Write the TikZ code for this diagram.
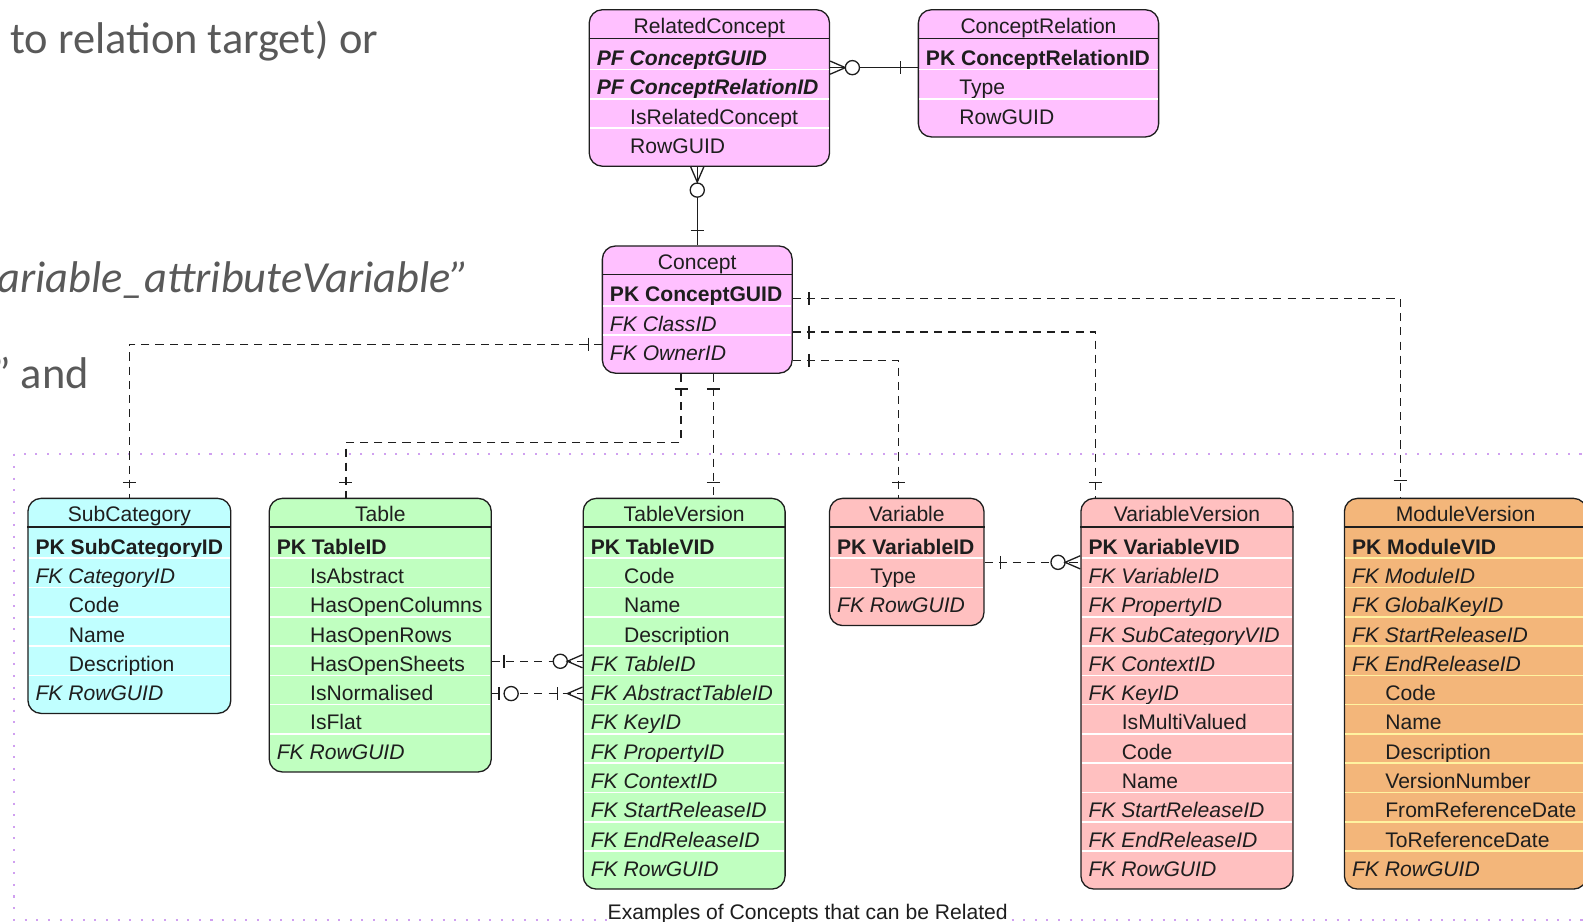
\documentclass[tikz,border=0pt]{standalone}
\usepackage{fontspec}
\setmainfont{Liberation Sans}
\newfontfamily\slidefont{Carlito}

\definecolor{pinkbox}{HTML}{FFC0FF}
\definecolor{cyanbox}{HTML}{C0FFFF}
\definecolor{greenbox}{HTML}{C0FFC0}
\definecolor{redbox}{HTML}{FFC0C0}
\definecolor{orangebox}{HTML}{F3B67A}
\definecolor{modsep}{HTML}{FFF3A0}
\definecolor{slidegray}{HTML}{595959}
\definecolor{framepink}{HTML}{D0A0F0}
\definecolor{inkgray}{HTML}{1E1E1E}

% name, fill, row rule, x, y, width, rows, title, fields
\newcommand{\erentity}[9]{%
    \node[entity, fill=#2, minimum width=#6, minimum height={39+29*#7}] (#1) at (#4,#5) {};
    \node[etitle] at ([yshift=-24]#1.north) {#8};
    \draw[inkgray, line width=1.3pt] ([yshift=-29]#1.north west) -- ([yshift=-29]#1.north east);
    \foreach \s/\t [count=\i] in {#9} {
        \ifnum\i>1
            \draw[#3, line width=1.6pt] ([xshift=1.5, yshift={-2-29*\i}]#1.north west) -- ([xshift=-1.5, yshift={-2-29*\i}]#1.north east);
        \fi
        \node[efield, \s] (#1-\i) at ([xshift=8, yshift={-27-29*\i}]#1.north west) {\t};
    }
}

\begin{document}
\begin{tikzpicture}[x=1pt, y=-1pt,
    entity/.style={rectangle, draw=inkgray, line width=1.3pt, rounded corners=13pt, inner sep=0pt, anchor=north west},
    etitle/.style={anchor=base, inner sep=0pt, text=inkgray, font=\fontsize{20.9}{25}\selectfont},
    efield/.style={anchor=base west, inner sep=0pt, text=inkgray, font=\fontsize{20.9}{25}\selectfont},
    pkrow/.style={font=\fontsize{20.9}{25}\selectfont\bfseries},
    pfrow/.style={font=\fontsize{20.9}{25}\selectfont\bfseries\itshape},
    fkrow/.style={font=\fontsize{20.9}{25}\selectfont\itshape},
    atrow/.style={xshift=33pt},
    slide/.style={anchor=base west, inner sep=0pt, text=slidegray, font=\slidefont\fontsize{44}{52}\selectfont},
    idline/.style={draw=inkgray, line width=1.3pt},
    fkline/.style={draw=inkgray, line width=1.3pt, dash pattern=on 8pt off 6pt},
    endmark/.style={draw=inkgray, line width=1.3pt, solid},
    bar/.pic={\draw[endmark] (0,-6.5) -- (0,6.5);},
    zero/.pic={\draw[endmark, fill=white] (0,0) circle (7pt);},
    crow/.pic={\draw[endmark] (0,-6.5) -- (15,0) -- (0,6.5);}
    ]
    \useasboundingbox (0,0) rectangle (1568,913);
    \clip (0,0) rectangle (1568,913);

    \node[slide] (slide1) at (10,53) {to relation target) or};
    \node[slide, font=\slidefont\itshape\fontsize{44}{52}\selectfont] (slide2) at (-3,290) {ariable\_attributeVariable”};
    \node[slide] (slide3) at (-8,385) {” and};

    \draw[framepink, line width=2pt, dash pattern=on 2pt off 9.5pt] (14,450) rectangle (1600,911);

    \erentity{relc}{pinkbox}{white}{583}{9}{238}{4}{RelatedConcept}{pfrow/PF ConceptGUID, pfrow/PF ConceptRelationID, atrow/IsRelatedConcept, atrow/RowGUID}
    \erentity{crel}{pinkbox}{white}{909}{9}{238}{3}{ConceptRelation}{pkrow/PK ConceptRelationID, atrow/Type, atrow/RowGUID}
    \erentity{concept}{pinkbox}{white}{596}{243}{188}{3}{Concept}{pkrow/PK ConceptGUID, fkrow/FK ClassID, fkrow/FK OwnerID}
    \erentity{subcat}{cyanbox}{white}{27}{493}{201}{6}{SubCategory}{pkrow/PK SubCategoryID, fkrow/FK CategoryID, atrow/Code, atrow/Name, atrow/Description, fkrow/FK RowGUID}
    \erentity{table}{greenbox}{white}{266}{493}{220}{8}{Table}{pkrow/PK TableID, atrow/IsAbstract, atrow/HasOpenColumns, atrow/HasOpenRows, atrow/HasOpenSheets, atrow/IsNormalised, atrow/IsFlat, fkrow/FK RowGUID}
    \erentity{tablever}{greenbox}{white}{577}{493}{200}{12}{TableVersion}{pkrow/PK TableVID, atrow/Code, atrow/Name, atrow/Description, fkrow/FK TableID, fkrow/FK AbstractTableID, fkrow/FK KeyID, fkrow/FK PropertyID, fkrow/FK ContextID, fkrow/FK StartReleaseID, fkrow/FK EndReleaseID, fkrow/FK RowGUID}
    \erentity{variable}{redbox}{white}{821}{493}{153}{3}{Variable}{pkrow/PK VariableID, atrow/Type, fkrow/FK RowGUID}
    \erentity{varver}{redbox}{white}{1070}{493}{210}{12}{VariableVersion}{pkrow/PK VariableVID, fkrow/FK VariableID, fkrow/FK PropertyID, fkrow/FK SubCategoryVID, fkrow/FK ContextID, fkrow/FK KeyID, atrow/IsMultiValued, atrow/Code, atrow/Name, fkrow/FK StartReleaseID, fkrow/FK EndReleaseID, fkrow/FK RowGUID}
    \erentity{modver}{orangebox}{modsep}{1331}{493}{240}{12}{ModuleVersion}{pkrow/PK ModuleVID, fkrow/FK ModuleID, fkrow/FK GlobalKeyID, fkrow/FK StartReleaseID, fkrow/FK EndReleaseID, atrow/Code, atrow/Name, atrow/Description, atrow/VersionNumber, atrow/FromReferenceDate, atrow/ToReferenceDate, fkrow/FK RowGUID}

    % identifying links
    \draw[idline] ([yshift=-58]relc.north east) coordinate (rc1) -- (rc1 -| crel.west) coordinate (rc2);
    \pic at (rc1) {crow};
    \pic at ([xshift=22]rc1) {zero};
    \pic at ([xshift=-17]rc2) {bar};
    \draw[idline] (concept.north) -- (concept.north |- relc.south) coordinate (rc3);
    \pic[rotate=-90] at (rc3) {crow};
    \pic at ([yshift=-23]rc3) {zero};
    \pic[rotate=90] at ([yshift=15]concept.north) {bar};

    % concept links
    \draw[fkline] ([yshift=-98]concept.north west) coordinate (c1) -| (subcat.north) coordinate (c1e);
    \pic at ([xshift=-13]c1) {bar};
    \pic[rotate=90] at ([yshift=15]c1e) {bar};
    \draw[fkline] ([xshift=-16]concept.south) coordinate (c2) -- ++(0,68) -| ([xshift=-34]table.north) coordinate (c2e);
    \pic[rotate=90] at ([yshift=-15]c2) {bar};
    \pic[rotate=90] at ([yshift=15]c2e) {bar};
    \draw[fkline] ([xshift=16]concept.south) coordinate (c3) -- (c3 |- tablever.north) coordinate (c3e);
    \pic[rotate=90] at ([yshift=-15]c3) {bar};
    \pic[rotate=90] at ([yshift=15]c3e) {bar};
    \draw[fkline] ([yshift=-114]concept.north east) coordinate (c4) -| ([xshift=-8]variable.north) coordinate (c4e);
    \pic at ([xshift=16]c4) {bar};
    \pic[rotate=90] at ([yshift=15]c4e) {bar};
    \draw[fkline] ([yshift=-86]concept.north east) coordinate (c5) -| ([xshift=15]varver.north west) coordinate (c5e);
    \pic at ([xshift=16]c5) {bar};
    \pic[rotate=90] at ([yshift=15]c5e) {bar};
    \draw[fkline] ([yshift=-53]concept.north east) coordinate (c6) -| ([xshift=56]modver.north west) coordinate (c6e);
    \pic at ([xshift=16]c6) {bar};
    \pic[rotate=90] at ([yshift=17]c6e) {bar};

    % table and variable links
    \draw[fkline] ([yshift=-162]table.north east) coordinate (t1) -- (t1 -| tablever.west) coordinate (t2);
    \pic at ([xshift=12]t1) {bar};
    \pic at ([xshift=-22]t2) {zero};
    \pic[rotate=180] at (t2) {crow};
    \draw[fkline] ([yshift=-194]table.north east) coordinate (t3) -- (t3 -| tablever.west) coordinate (t4);
    \pic at ([xshift=7]t3) {bar};
    \pic at ([xshift=19]t3) {zero};
    \pic at ([xshift=-25]t4) {bar};
    \pic[rotate=180] at (t4) {crow};
    \draw[fkline] ([yshift=-64]variable.north east) coordinate (v1) -- (v1 -| varver.west) coordinate (v2);
    \pic at ([xshift=16]v1) {bar};
    \pic at ([xshift=-22]v2) {zero};
    \pic[rotate=180] at (v2) {crow};

    \node[etitle, fill=white, inner sep=1pt] (caption) at (800,911) {Examples of Concepts that can be Related};
\end{tikzpicture}
\end{document}
